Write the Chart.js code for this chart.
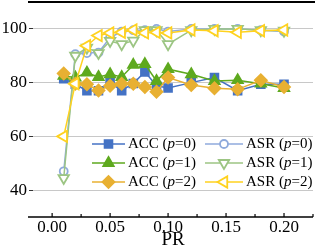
<!DOCTYPE html>
<html>
<head>
<meta charset="utf-8">
<script src="https://cdn.jsdelivr.net/npm/chart.js@4.4.0/dist/chart.umd.min.js"></script>
<style>
html, body { margin: 0; padding: 0; background: #fff; }
</style>
</head>
<body>
<canvas id="prChart" width="315" height="250"></canvas>
<script>
// poisoning rate on the x axis
const pr = [0.01, 0.02, 0.03, 0.04, 0.05, 0.06, 0.07, 0.08, 0.09, 0.10, 0.12, 0.14, 0.16, 0.18, 0.20];

const acc0 = [81.5, 79.4, 77, 77, 80, 77, 79.7, 84, 78.8, 78, 80, 81.9, 77, 79.4, 79.4];
const asr0 = [47, 90.6, 91, 91.2, 96.8, 99, 99.5, 99.5, 100, 99, 100, 100, 100, 99.5, 99];
const acc1 = [82.5, 81.9, 83.7, 82.1, 83.1, 82.1, 86.6, 86.9, 80.6, 85, 83.1, 80.6, 80.9, 79.6, 78];
const asr1 = [44.5, 90, 93, 91, 95.5, 94.3, 95.6, 99.5, 99.5, 94.3, 99.5, 100, 100, 99.5, 99.3];
const acc2 = [83.4, 79.6, 79.4, 77.1, 78.8, 79.6, 79.6, 78.4, 76.6, 81.9, 79.1, 77.9, 77.5, 80.9, 78.4];
const asr2 = [60, 79.6, 93.7, 97.5, 98.5, 98.7, 99.6, 98.5, 98.7, 98.5, 99.6, 99.3, 98.7, 99.3, 99.6];

const xTicks = [0, 0.05, 0.10, 0.15, 0.20];
const xMinor = [0.025, 0.075, 0.125, 0.175, 0.225];
const yTicks = [40, 60, 80, 100];

const serif = '"Liberation Serif", "DejaVu Serif", serif';

// series: metric, p, values + look
const series = [
  { metric: 'ACC', p: 0, data: acc0, color: '#4472C4', fill: '#4472C4', style: 'rect', rot: 0, r: 5.5 },
  { metric: 'ASR', p: 0, data: asr0, color: '#8FAADC', fill: '#ffffff', style: 'circle', rot: 0, r: 4 },
  { metric: 'ACC', p: 1, data: acc1, color: '#5EA91E', fill: '#5EA91E', style: 'triangle', rot: 0, r: 6 },
  { metric: 'ASR', p: 1, data: asr1, color: '#9CC583', fill: '#ffffff', style: 'triangle', rot: 180, r: 6 },
  { metric: 'ACC', p: 2, data: acc2, color: '#E8B032', fill: '#E8B032', style: 'rectRot', rot: 0, r: 6 },
  { metric: 'ASR', p: 2, data: asr2, color: '#FFD21F', fill: '#ffffff', style: 'triangle', rot: 270, r: 6.5 }
];

const datasets = series.map((s, i) => ({
  label: s.metric + ' (p=' + s.p + ')',
  data: pr.map((x, j) => ({ x: x, y: s.data[j] })),
  borderColor: s.color,
  backgroundColor: s.fill,
  borderWidth: 1.5,
  pointStyle: s.style,
  rotation: s.rot,
  pointRadius: s.r,
  pointBorderWidth: 1.8,
  pointBorderColor: s.color,
  pointBackgroundColor: s.fill,
  fill: false,
  tension: 0,
  order: series.length - 1 - i
}));

// frame lines, inward x ticks and the two column legend
const decor = {
  id: 'decor',
  afterDraw(chart) {
    const ctx = chart.ctx;
    const area = chart.chartArea;
    const xs = chart.scales.x;
    ctx.save();
    ctx.strokeStyle = '#000';
    ctx.lineWidth = 2;
    ctx.beginPath();
    ctx.moveTo(area.left - 5, area.top);
    ctx.lineTo(chart.width, area.top);
    ctx.stroke();
    ctx.lineWidth = 1.5;
    ctx.beginPath();
    ctx.moveTo(area.left - 5, area.bottom);
    ctx.lineTo(area.right, area.bottom);
    ctx.stroke();
    ctx.lineWidth = 1.2;
    xTicks.concat(xMinor).forEach((v, k) => {
      const px = xs.getPixelForValue(v);
      const len = k < xTicks.length ? 4 : 3;
      ctx.beginPath();
      ctx.moveTo(px, area.bottom);
      ctx.lineTo(px, area.bottom - len);
      ctx.stroke();
    });

    // legend
    const cols = [{ x0: area.left + 59, x1: area.left + 92 }, { x0: area.left + 172, x1: area.left + 210 }];
    ctx.textBaseline = 'middle';
    series.forEach((s, i) => {
      const col = cols[s.metric === 'ACC' ? 0 : 1];
      const y = area.top + 142 + s.p * 19;
      ctx.strokeStyle = s.color;
      ctx.lineWidth = 1.5;
      ctx.beginPath();
      ctx.moveTo(col.x0, y);
      ctx.lineTo(col.x1, y);
      ctx.stroke();
      ctx.fillStyle = s.fill;
      ctx.lineWidth = 1.8;
      Chart.helpers.drawPoint(ctx, { pointStyle: s.style, rotation: s.rot, radius: s.r, borderWidth: 1.8 }, (col.x0 + col.x1) / 2, y);
      let tx = col.x1 + 3;
      ctx.fillStyle = '#000';
      const parts = [[s.metric + ' (', 'normal'], ['p', 'italic'], ['=' + s.p + ')', 'normal']];
      parts.forEach(pt => {
        ctx.font = pt[1] + ' 15px ' + serif;
        ctx.fillText(pt[0], tx, y);
        tx += ctx.measureText(pt[0]).width;
      });
    });
    ctx.restore();
  }
};

new Chart(document.getElementById('prChart'), {
  type: 'line',
  data: { datasets: datasets },
  options: {
    responsive: false,
    devicePixelRatio: 1,
    animation: false,
    layout: { autoPadding: false, padding: { top: 2, right: 2, left: 0, bottom: 0 } },
    plugins: { legend: { display: false }, tooltip: { enabled: false } },
    scales: {
      x: {
        type: 'linear',
        min: -0.0165,
        max: 0.225,
        afterFit: s => { s.height = 33; s.paddingLeft = 0; s.paddingRight = 0; },
        afterBuildTicks: s => { s.ticks = xTicks.map(v => ({ value: v })); },
        grid: { display: false, drawTicks: false },
        border: { display: false },
        ticks: {
          color: '#000',
          padding: 2,
          maxRotation: 0,
          font: { family: serif, size: 17, lineHeight: 1.0 },
          callback: v => v.toFixed(2)
        },
        title: {
          display: true,
          text: 'PR',
          color: '#000',
          padding: { top: 0, bottom: 0 },
          font: { family: serif, size: 19, lineHeight: 1.0 }
        }
      },
      y: {
        min: 30,
        max: 110,
        afterFit: s => { s.width = 33; s.paddingTop = 0; s.paddingBottom = 0; },
        afterBuildTicks: s => { s.ticks = yTicks.map(v => ({ value: v })); },
        grid: { color: '#c8c8c8', lineWidth: 1, tickColor: '#333', tickLength: 4 },
        border: { display: false },
        ticks: {
          color: '#000',
          padding: 2,
          font: { family: serif, size: 17, lineHeight: 0.3 }
        }
      }
    }
  },
  plugins: [decor]
});
</script>
</body>
</html>
